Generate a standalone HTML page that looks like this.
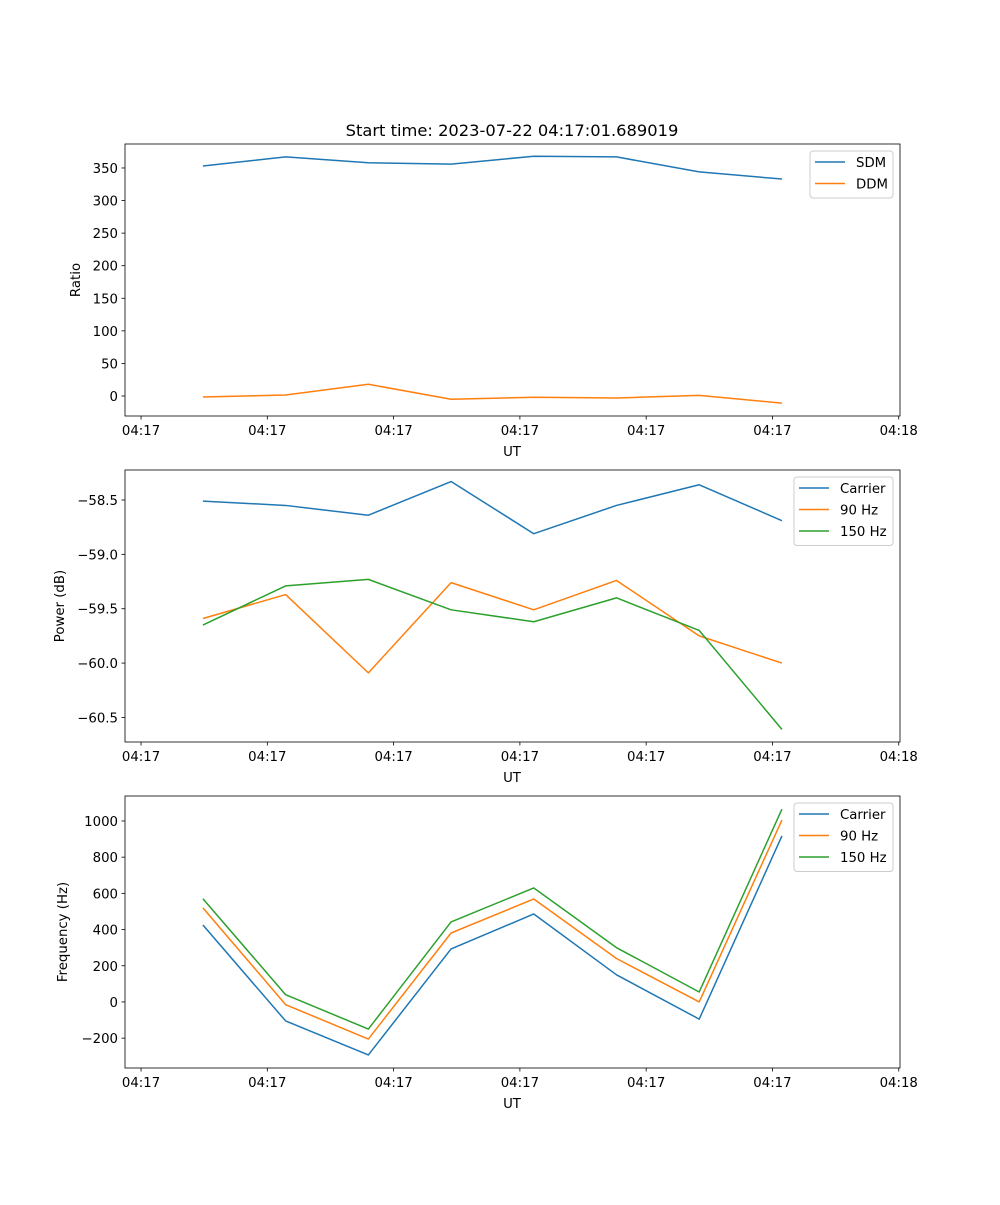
<!DOCTYPE html>
<html><head><meta charset="utf-8"><style>
body{margin:0;background:#fff}
svg text{font-family:"DejaVu Sans","Liberation Sans",sans-serif;font-size:13.3px;fill:#000}
</style></head><body>
<svg id="fig" width="1000" height="1200" xmlns="http://www.w3.org/2000/svg">
<rect width="1000" height="1200" fill="#fff"/>
<text x="512" y="136" text-anchor="middle" style="font-size:16.3px">Start time: 2023-07-22 04:17:01.689019</text>
</svg>
<script>
// x values in seconds after 04:17:00 (ticks every 10 s)
const times = [4.9, 11.45, 18.0, 24.55, 31.1, 37.65, 44.2, 50.75];
const xTickValues = [0, 10, 20, 30, 40, 50, 60];
const xTickLabels = ["04:17","04:17","04:17","04:17","04:17","04:17","04:18"];
const sdm = [353, 367, 358, 356, 368, 367, 344, 333];
const ddm = [-1.5, 1.5, 18, -5, -2, -3, 1, -11];
const ratioTicks = [0, 50, 100, 150, 200, 250, 300, 350];
const powCarrier = [-58.51, -58.55, -58.64, -58.33, -58.81, -58.55, -58.36, -58.69];
const pow90 = [-59.59, -59.37, -60.09, -59.26, -59.51, -59.24, -59.75, -60.0];
const pow150 = [-59.65, -59.29, -59.23, -59.51, -59.62, -59.40, -59.70, -60.61];
const powTicks = [-60.5, -60.0, -59.5, -59.0, -58.5];
const powTickLabels = ["−60.5","−60.0","−59.5","−59.0","−58.5"];
const freqCarrier = [425, -105, -293, 293, 486, 150, -95, 917];
const freq90 = [520, -15, -205, 381, 569, 240, 0, 1005];
const freq150 = [570, 40, -150, 442, 630, 300, 55, 1065];
const freqTicks = [-200, 0, 200, 400, 600, 800, 1000];
const freqTickLabels = ["−200","0","200","400","600","800","1000"];

const NS = "http://www.w3.org/2000/svg";
const svg = document.getElementById('fig');
const C = {blue:"#1f77b4", orange:"#ff7f0e", green:"#2ca02c"};
function mk(tag, attrs, parent){const e=document.createElementNS(NS,tag);for(const k in attrs)e.setAttribute(k,attrs[k]);(parent||svg).appendChild(e);return e;}
const L=125,R=900;
const xMin=-1.27,xMax=60.1;
const xs=v=>L+(v-xMin)/(xMax-xMin)*(R-L);

function panel(name, top, bot, yMin, yMax, yTicks, yLabels, yTitle, series, legend){
  const g=mk('g',{});
  
  
  const ys=v=>bot-(v-yMin)/(yMax-yMin)*(bot-top);
  series.forEach(s=>{
    const p=mk('polyline',{points:times.map((t,i)=>xs(t)+','+ys(s.vals[i])).join(' '),fill:'none',stroke:s.color,'stroke-width':1.5,'stroke-linejoin':'round'},g);
    
    
  });
  const frame=mk('rect',{x:L,y:top,width:R-L,height:bot-top,fill:'none',stroke:'#000','stroke-width':0.8},g);
  
  
  xTickValues.forEach((v,i)=>{
    const x=xs(v);
    mk('line',{x1:x,x2:x,y1:bot,y2:bot+3.5,stroke:'#000','stroke-width':0.8},g);
    const t=mk('text',{x:x,y:bot+19,'text-anchor':'middle'},g);t.textContent=xTickLabels[i];
    
    
  });
  const xt=mk('text',{x:512,y:bot+40,'text-anchor':'middle'},g);xt.textContent='UT';
  
  
  yTicks.forEach((v,i)=>{
    const y=ys(v);
    mk('line',{x1:L,x2:L-3.5,y1:y,y2:y,stroke:'#000','stroke-width':0.8},g);
    const t=mk('text',{x:L-7,y:y+5,'text-anchor':'end'},g);t.textContent=yLabels[i];
    
    
  });
  const cy=(top+bot)/2;
  const yt=mk('text',{x:0,y:0,'text-anchor':'middle',transform:`translate(${legend.titleX},${cy}) rotate(-90)`},g);yt.textContent=yTitle;
  
  
  const lg=mk('g',{},g);
  
  
  mk('rect',{x:legend.x,y:top+7,width:R-7-legend.x,height:series.length*21.5+4,rx:3,fill:'#fff','fill-opacity':0.8,stroke:'#ccc','stroke-width':1},lg);
  series.forEach((s,i)=>{
    const y=top+18+i*21.5;
    mk('line',{x1:legend.x+5,x2:legend.x+35,y1:y,y2:y,stroke:s.color,'stroke-width':1.5},lg);
    const t=mk('text',{x:legend.x+46,y:y+5},lg);t.textContent=s.label;
    
    
  });
}
panel('ratio-panel',144,416,-30.7,386.8,ratioTicks,ratioTicks.map(String),'Ratio',
  [{id:'sdm-line',label:'SDM',vals:sdm,color:C.blue},{id:'ddm-line',label:'DDM',vals:ddm,color:C.orange}],{x:810,titleX:80});
panel('power-panel',470,742,-60.726,-58.224,powTicks,powTickLabels,'Power (dB)',
  [{id:'carrier-power-line',label:'Carrier',vals:powCarrier,color:C.blue},{id:'90hz-power-line',label:'90 Hz',vals:pow90,color:C.orange},{id:'150hz-power-line',label:'150 Hz',vals:pow150,color:C.green}],{x:794,titleX:64});
panel('frequency-panel',796,1068,-365,1138,freqTicks,freqTickLabels,'Frequency (Hz)',
  [{id:'carrier-freq-line',label:'Carrier',vals:freqCarrier,color:C.blue},{id:'90hz-freq-line',label:'90 Hz',vals:freq90,color:C.orange},{id:'150hz-freq-line',label:'150 Hz',vals:freq150,color:C.green}],{x:794,titleX:67});
</script>
</body></html>
